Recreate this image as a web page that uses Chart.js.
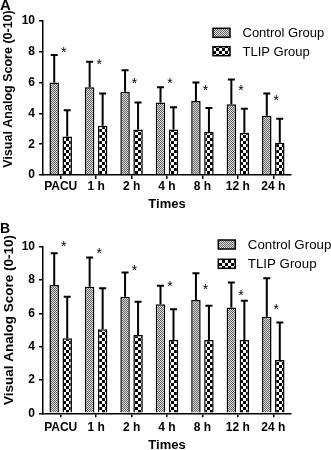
<!DOCTYPE html>
<html>
<head>
<meta charset="utf-8">
<script src="https://cdn.jsdelivr.net/npm/chart.js@4/dist/chart.umd.min.js"></script>
<style>
  html, body { margin: 0; padding: 0; background: #fff; }
  #wrap { position: relative; width: 331px; height: 450px; overflow: hidden; }
  canvas { position: absolute; left: 0; }
  #chartA { top: 0; }
  #chartB { top: 218px; }
</style>
</head>
<body>
<div id="wrap">
  <canvas id="chartA" width="331" height="218"></canvas>
  <canvas id="chartB" width="331" height="232"></canvas>
</div>
<script>
// categories and series
const times = ["PACU", "1 h", "2 h", "4 h", "8 h", "12 h", "24 h"];
const seriesNames = ["Control Group", "TLIP Group"];

// panel A: mean and SD (VAS 0-10)
const controlA   = [6.0, 5.7, 5.4, 4.7, 4.8, 4.6, 3.85];
const controlSdA = [1.8, 1.65, 1.4, 1.0, 1.2, 1.6, 1.45];
const tlipA      = [2.5, 3.2, 2.95, 2.95, 2.8, 2.75, 2.1];
const tlipSdA    = [1.7, 2.1, 1.75, 1.45, 1.55, 1.55, 1.55];
const starsA     = [8.2, 7.4, 6.15, 6.15, 5.7, 5.7, 5.05];

// panel B
const controlB   = [7.7, 7.6, 7.0, 6.55, 6.8, 6.35, 5.8];
const controlSdB = [1.9, 1.75, 1.45, 1.1, 1.6, 1.5, 2.3];
const tlipB      = [4.5, 5.05, 4.7, 4.4, 4.4, 4.4, 3.2];
const tlipSdB    = [2.5, 2.45, 2.0, 1.85, 2.05, 2.35, 2.25];
const starsB     = [10.25, 9.8, 8.76, 7.84, 7.66, 7.3, 6.44];

const yTitle = "Visual Analog Score (0-10)";
const xTitle = "Times";
const FONT = "'Liberation Sans', Arial, Helvetica, sans-serif";
Chart.defaults.font.family = FONT;

function makePattern(size, draw) {
  const c = document.createElement('canvas');
  c.width = c.height = size;
  const g = c.getContext('2d');
  draw(g);
  return g.createPattern(c, 'repeat');
}
// fine stipple for control, coarse checker for TLIP
const finePat = makePattern(2, g => {
  g.fillStyle = '#dcdcdc'; g.fillRect(0, 0, 2, 2);
  g.fillStyle = '#666'; g.fillRect(0, 0, 1, 1); g.fillRect(1, 1, 1, 1);
});
const checkPat = makePattern(6, g => {
  g.fillStyle = '#fff'; g.fillRect(0, 0, 6, 6);
  g.fillStyle = '#000'; g.fillRect(0, 0, 3, 3); g.fillRect(3, 3, 3, 3);
});
const fills = [finePat, checkPat];

// error bars, stars, legend, titles, panel letter
function extras(p) {
  return {
    id: 'extras',
    afterDatasetsDraw(chart) {
      const ctx = chart.ctx, y = chart.scales.y, area = chart.chartArea;
      const sds = [p.controlSd, p.tlipSd];
      ctx.save();
      ctx.strokeStyle = '#000';
      ctx.lineWidth = 2;
      chart.data.datasets.forEach((ds, d) => {
        chart.getDatasetMeta(d).data.forEach((bar, i) => {
          const top = y.getPixelForValue(ds.data[i] + sds[d][i]);
          ctx.beginPath();
          ctx.moveTo(bar.x, bar.y);
          ctx.lineTo(bar.x, top);
          ctx.moveTo(bar.x - 3.5, top);
          ctx.lineTo(bar.x + 3.5, top);
          ctx.stroke();
        });
      });

      // significance stars
      const m0 = chart.getDatasetMeta(0).data, m1 = chart.getDatasetMeta(1).data;
      ctx.fillStyle = '#000';
      ctx.font = '14px ' + FONT;
      ctx.textAlign = 'center';
      ctx.textBaseline = 'alphabetic';
      p.stars.forEach((s, i) => {
        const x = (m0[i].x + m1[i].x) / 2 + 3;
        ctx.fillText('*', x, y.getPixelForValue(s) + 8);
      });

      // legend
      ctx.textAlign = 'left';
      ctx.font = p.legendFont + 'px ' + FONT;
      ctx.lineWidth = 1.5;
      seriesNames.forEach((name, k) => {
        const by = p.legendTop + k * p.legendGap;
        ctx.fillStyle = fills[k];
        ctx.fillRect(p.legendX, by, 17, 9);
        ctx.strokeRect(p.legendX, by, 17, 9);
        ctx.fillStyle = '#000';
        ctx.fillText(name, p.legendX + 29.5, by + 9);
      });

      // axis titles
      ctx.font = 'bold ' + p.yTitleFont + 'px ' + FONT;
      ctx.save();
      ctx.translate(p.yTitleX, p.yTitleY);
      ctx.rotate(-Math.PI / 2);
      ctx.textAlign = 'center';
      ctx.fillText(yTitle, 0, 0);
      ctx.restore();
      ctx.font = 'bold 13px ' + FONT;
      ctx.textAlign = 'center';
      ctx.fillText(xTitle, (area.left + area.right) / 2, p.xTitleY);

      // panel letter
      ctx.font = 'bold ' + p.letterFont + 'px ' + FONT;
      ctx.textAlign = 'left';
      ctx.fillText(p.letter, 0, p.letterY);
      ctx.restore();
    }
  };
}

function drawPanel(id, p) {
  const canvas = document.getElementById(id);
  new Chart(canvas, {
    type: 'bar',
    data: {
      labels: times,
      datasets: [
        { label: seriesNames[0], data: p.control, backgroundColor: finePat },
        { label: seriesNames[1], data: p.tlip, backgroundColor: checkPat }
      ]
    },
    options: {
      responsive: false,
      animation: false,
      devicePixelRatio: 1,
      events: [],
      datasets: {
        bar: {
          borderColor: '#000',
          borderWidth: 1.5,
          categoryPercentage: 0.734,
          barPercentage: 0.73
        }
      },
      layout: {
        autoPadding: false,
        padding: { left: 0, right: canvas.width - 291, top: p.areaTop, bottom: 0 }
      },
      plugins: { legend: { display: false }, tooltip: { enabled: false } },
      scales: {
        x: {
          grid: { offset: false, drawOnChartArea: false, drawTicks: true, tickLength: 4, color: '#000', lineWidth: 1.5 },
          border: { display: true, color: '#000', width: 1.5 },
          ticks: { color: '#000', font: { weight: 'bold', size: 12 }, padding: p.xPad, maxRotation: 0, autoSkip: false },
          afterFit(s) { s.height = canvas.height - p.areaBottom; s.paddingLeft = 0; s.paddingRight = 0; }
        },
        y: {
          min: 0, max: 10,
          grid: { drawOnChartArea: false, drawTicks: true, tickLength: 4, color: '#000', lineWidth: 1.5 },
          border: { display: true, color: '#000', width: 1.5 },
          ticks: { stepSize: 2, color: '#000', font: { weight: 'bold', size: 12 }, padding: 4 },
          afterFit(s) { s.width = 43; s.paddingTop = 0; s.paddingBottom = 0; }
        }
      }
    },
    plugins: [extras(p)]
  });
}

drawPanel('chartA', {
  control: controlA, controlSd: controlSdA, tlip: tlipA, tlipSd: tlipSdA, stars: starsA,
  areaTop: 21, areaBottom: 175, xPad: 0,
  legendX: 213, legendTop: 28.3, legendGap: 18.4, legendFont: 13,
  yTitleX: 12.3, yTitleY: 89, yTitleFont: 12.5, xTitleY: 208.3,
  letter: 'A', letterY: 10, letterFont: 15
});
drawPanel('chartB', {
  control: controlB, controlSd: controlSdB, tlip: tlipB, tlipSd: tlipSdB, stars: starsB,
  areaTop: 28.7, areaBottom: 195.3, xPad: 3,
  legendX: 218.3, legendTop: 22, legendGap: 19.3, legendFont: 13.3,
  yTitleX: 13, yTitleY: 102, yTitleFont: 13.5, xTitleY: 231.3,
  letter: 'B', letterY: 14.5, letterFont: 14
});
</script>
</body>
</html>
